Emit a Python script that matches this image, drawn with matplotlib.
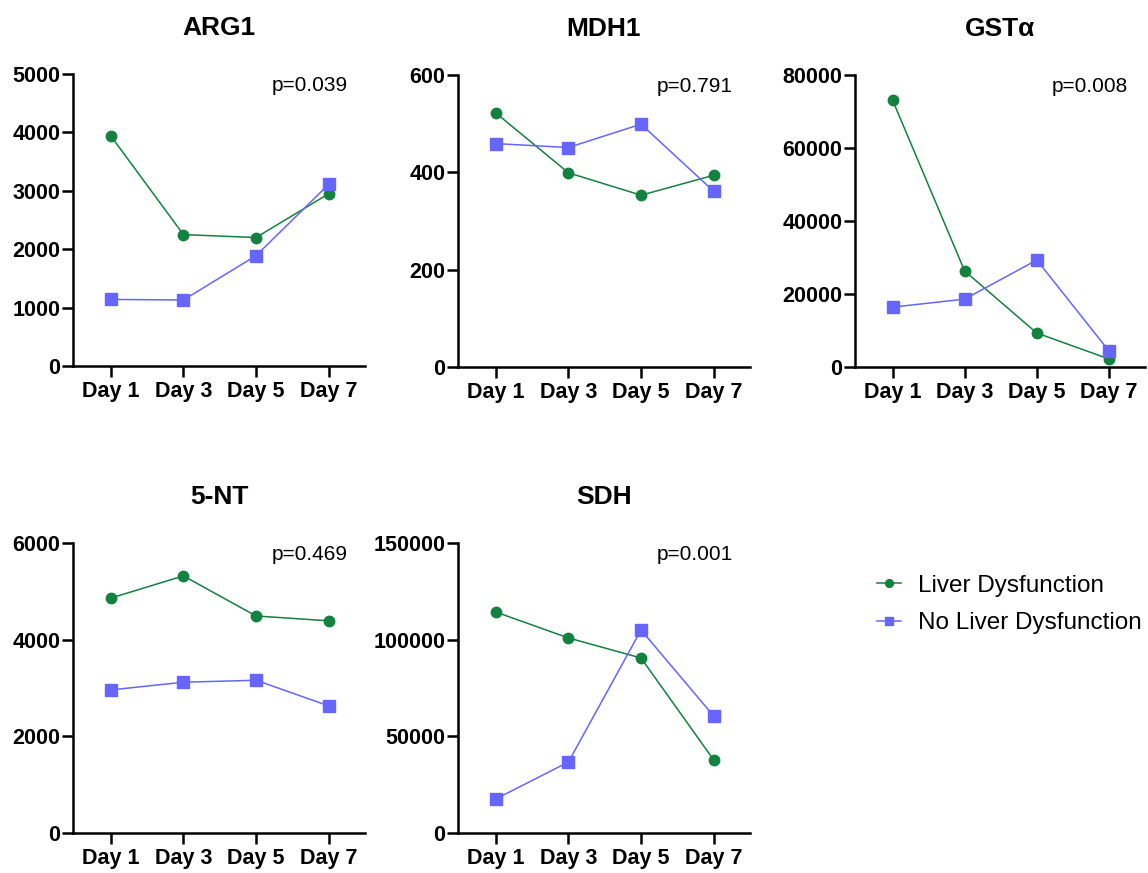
import matplotlib
matplotlib.use("Agg")
import matplotlib.pyplot as plt
import numpy as np

plt.rcParams['font.family'] = ['Liberation Sans', 'DejaVu Sans']

days = ["Day 1", "Day 3", "Day 5", "Day 7"]

arg1_ld = [3940, 2250, 2200, 2950]
arg1_no = [1140, 1130, 1890, 3110]
mdh1_ld = [522, 399, 353, 394]
mdh1_no = [459, 451, 499, 361]
gst_ld = [73150, 26300, 9300, 2200]
gst_no = [16400, 18600, 29300, 4400]
nt5_ld = [4860, 5320, 4490, 4390]
nt5_no = [2960, 3120, 3160, 2630]
sdh_ld = [114300, 100900, 90500, 37800]
sdh_no = [17600, 36700, 105000, 60500]

panels = [
    ("ARG1", arg1_ld, arg1_no, 5000, 1000, "p=0.039"),
    ("MDH1", mdh1_ld, mdh1_no, 600, 200, "p=0.791"),
    ("GSTα", gst_ld, gst_no, 80000, 20000, "p=0.008"),
    ("5-NT", nt5_ld, nt5_no, 6000, 2000, "p=0.469"),
    ("SDH", sdh_ld, sdh_no, 150000, 50000, "p=0.001"),
]

green = '#13813f'
blue = '#6666ff'

W, H = 1148, 873
fig = plt.figure(figsize=(W / 100, H / 100), dpi=100)

# axes boxes in pixels: left, top of plot, right, bottom (y=0)
boxes = [(73, 74, 365, 366), (458, 75, 750, 367), (855, 75, 1145, 367),
         (73, 543, 365, 833), (458, 543, 750, 833)]

x = np.arange(len(days))
for (name, ld, no, ymax, step, ptxt), (l, t, r, b) in zip(panels, boxes):
    ax = fig.add_axes([l / W, 1 - b / H, (r - l) / W, (b - t) / H])
    ax.plot(x, ld, color=green, lw=1.1, marker='o', ms=7.5, label="Liver Dysfunction", clip_on=False, zorder=3)
    ax.plot(x, no, color=blue, lw=1.1, marker='s', ms=8, label="No Liver Dysfunction", clip_on=False, zorder=3)
    ax.set_xlim(-0.52, 3.5)
    ax.set_ylim(0, ymax)
    ax.set_yticks(np.arange(0, ymax + 1, step))
    ax.set_xticks(x)
    ax.set_xticklabels(days)
    for s in ['top', 'right']:
        ax.spines[s].set_visible(False)
    for s in ['left', 'bottom']:
        ax.spines[s].set_linewidth(1.8)
    ax.tick_params(axis='both', direction='out', length=8, width=1.8, labelsize=15.5)
    ax.tick_params(axis='y', pad=1)
    ax.tick_params(axis='x', pad=3)
    for lab in ax.get_xticklabels() + ax.get_yticklabels():
        lab.set_fontweight('bold')
    ax.set_title(name, fontsize=19, fontweight='bold', pad=28)
    ax.text(0.94, 0.96, ptxt, transform=ax.transAxes, ha='right', va='center', fontsize=15)
    handles, labels = ax.get_legend_handles_labels()

fig.legend(handles, labels, loc='center left', bbox_to_anchor=(877 / W, 1 - 604.5 / H),
           frameon=False, fontsize=17.5, handlelength=1.0, handletextpad=0.7,
           markerscale=0.75, borderpad=0, borderaxespad=0, labelspacing=0.65)

fig.savefig("out.png", dpi=100)
